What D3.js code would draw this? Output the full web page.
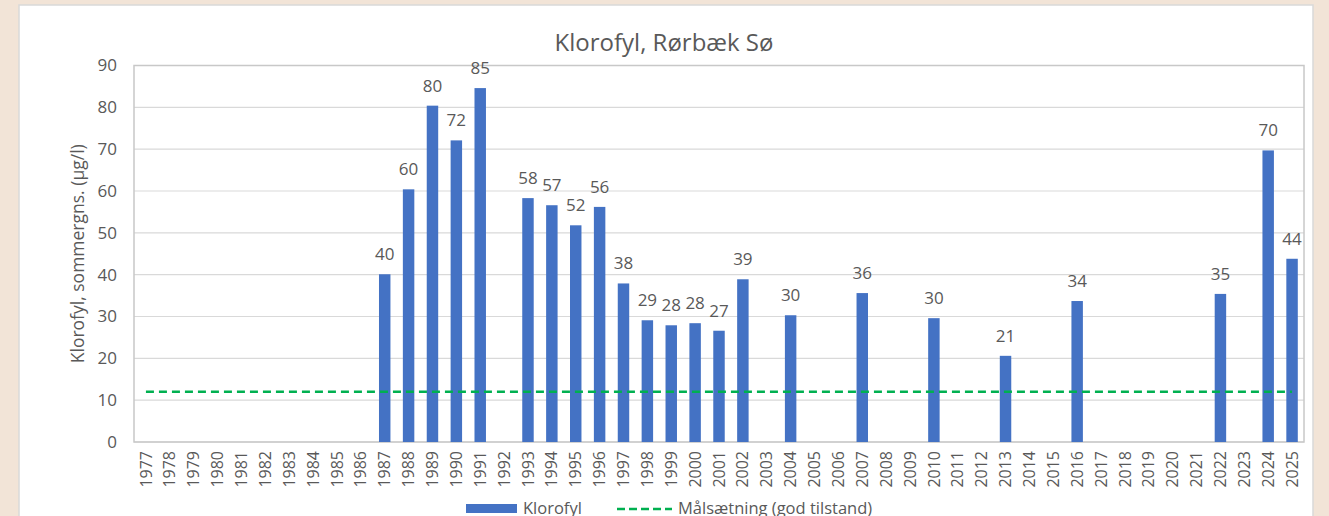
<!DOCTYPE html>
<html lang="da">
<head>
  <meta charset="UTF-8">
  <style>
    body { margin: 0; background: #f2e4d7; }
    svg { display: block; }
    .bars { fill: #4472c4; }
    .labels, .ticks text, .legend text {
      fill: #595959;
      font-family: "Open Sans", sans-serif;
    }
  </style>
  <title>Klorofyl, Rørbæk Sø</title>
  <script src="https://d3js.org/d3.v7.min.js"></script>
</head>
<body>
<svg id="chart"></svg>
<script>

const years = d3.range(1977, 2026).map(String);
const measuredYears = ['1987', '1988', '1989', '1990', '1991', '1993', '1994', '1995', '1996',
  '1997', '1998', '1999', '2000', '2001', '2002', '2004', '2007', '2010', '2013', '2016',
  '2022', '2024', '2025'];
const klorofyl = [40.1, 60.4, 80.4, 72.1, 84.6, 58.3, 56.6, 51.8, 56.2,
  37.9, 29.1, 27.9, 28.4, 26.6, 38.9, 30.3, 35.6, 29.6, 20.6, 33.7,
  35.4, 69.7, 43.8];
const yTicks = [0, 10, 20, 30, 40, 50, 60, 70, 80, 90];
const target = 12;

const data = measuredYears.map(function(y, i) {
  return {year: y, value: klorofyl[i]};
});

const size = {width: 1329, height: 516};
const svg = d3.select('#chart')
              .attr('width', size.width)
              .attr('height', size.height);

// white chart panel
svg.append('rect')
   .attr('x', 19).attr('y', 5)
   .attr('width', 1294).attr('height', 530)
   .attr('fill', 'white')
   .attr('stroke', '#d9d9d9')
   .attr('stroke-width', 1.5);

const plot = {left: 134, right: 1304, top: 65.5, bottom: 442};

const xScale = d3.scaleBand()
                 .domain(years)
                 .range([plot.left, plot.right])
                 .paddingInner(0.52)
                 .paddingOuter(0.26);
const yScale = d3.scaleLinear()
                 .domain([0, 90])
                 .range([plot.bottom, plot.top]);

// grid
svg.append('g')
   .selectAll('line')
   .data(yTicks)
   .enter()
   .append('line')
   .attr('x1', plot.left).attr('x2', plot.right)
   .attr('y1', function(d) { return yScale(d); })
   .attr('y2', function(d) { return yScale(d); })
   .attr('stroke', '#d9d9d9')
   .attr('stroke-width', 1.2);

svg.append('rect')
   .attr('x', plot.left).attr('y', plot.top)
   .attr('width', plot.right - plot.left)
   .attr('height', plot.bottom - plot.top)
   .attr('fill', 'none')
   .attr('stroke', '#c8c8c8')
   .attr('stroke-width', 1.5);

// y axis
const yAxis = d3.axisLeft(yScale).tickValues(yTicks).tickSize(0).tickPadding(17);
svg.append('g')
   .attr('class', 'ticks')
   .attr('transform', 'translate(' + plot.left + ',0)')
   .call(yAxis)
   .call(function(g) { g.select('.domain').remove(); })
   .selectAll('text')
   .attr('font-size', 17);

// x axis
const xAxis = d3.axisBottom(xScale).tickSize(0).tickPadding(0);
svg.append('g')
   .attr('class', 'ticks')
   .attr('transform', 'translate(0,' + plot.bottom + ')')
   .call(xAxis)
   .call(function(g) { g.select('.domain').remove(); })
   .selectAll('text')
   .attr('font-size', 16)
   .attr('text-anchor', 'end')
   .attr('y', 0)
   .attr('dy', '0.35em')
   .attr('transform', 'translate(0,9) rotate(-90)');

// bars
svg.selectAll('.bars')
   .data(data)
   .enter()
   .append('rect')
   .attr('class', 'bars')
   .attr('x', function(d) { return xScale(d.year); })
   .attr('y', function(d) { return yScale(d.value); })
   .attr('width', xScale.bandwidth())
   .attr('height', function(d) { return yScale(0) - yScale(d.value); });

svg.selectAll('.labels')
   .data(data)
   .enter()
   .append('text')
   .attr('class', 'labels')
   .attr('x', function(d) { return xScale(d.year) + xScale.bandwidth() / 2; })
   .attr('y', function(d) { return yScale(d.value) - 14; })
   .attr('text-anchor', 'middle')
   .attr('font-size', 17)
   .text(function(d) { return d3.format('.0f')(d.value); });

// target line
const half = xScale.bandwidth() / 2;
svg.append('line')
   .attr('x1', xScale(years[0]) + half)
   .attr('x2', xScale(years[years.length - 1]) + half)
   .attr('y1', yScale(target)).attr('y2', yScale(target))
   .attr('stroke', '#00b050')
   .attr('stroke-width', 2.5)
   .attr('stroke-dasharray', '8,5');

// title
svg.append('text')
   .attr('x', 664).attr('y', 51)
   .attr('text-anchor', 'middle')
   .attr('fill', '#595959')
   .attr('font-family', '"Open Sans", sans-serif')
   .attr('font-size', 24)
   .text('Klorofyl, Rørbæk Sø');

svg.append('text')
   .attr('transform', 'translate(84,' + (plot.top + plot.bottom) / 2 + ') rotate(-90)')
   .attr('text-anchor', 'middle')
   .attr('fill', '#595959')
   .attr('font-family', '"Open Sans", sans-serif')
   .attr('font-size', 17.5)
   .text('Klorofyl, sommergns. (µg/l)');

// legend (cut off by the bottom edge, as in the original)
const legend = svg.append('g').attr('class', 'legend');
legend.append('rect')
      .attr('x', 466).attr('y', 504)
      .attr('width', 51).attr('height', 9)
      .attr('fill', '#4472c4');
legend.append('text')
      .attr('x', 523).attr('y', 514)
      .attr('font-size', 16.5)
      .text('Klorofyl');
legend.append('line')
      .attr('x1', 617).attr('x2', 672)
      .attr('y1', 509).attr('y2', 509)
      .attr('stroke', '#00b050')
      .attr('stroke-width', 2.5)
      .attr('stroke-dasharray', '8,4');
legend.append('text')
      .attr('x', 678).attr('y', 514)
      .attr('font-size', 16.5)
      .text('Målsætning (god tilstand)');

</script>
</body>
</html>
